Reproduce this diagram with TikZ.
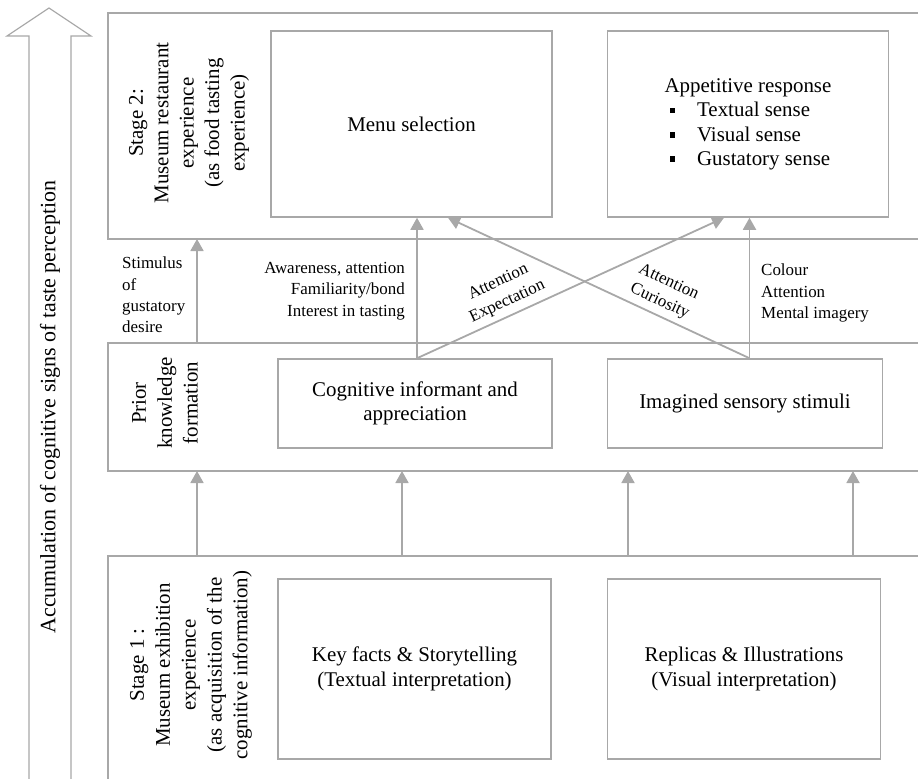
\documentclass[tikz,border=0pt]{standalone}
\usepackage{fontspec}
\setmainfont{Liberation Serif}
\usetikzlibrary{positioning, arrows.meta}
\definecolor{linegray}{RGB}{168,168,168}
\newcommand{\sqbul}{\hspace*{5bp}\raisebox{3.5bp}{\rule{5.5bp}{5.5bp}}\hspace{22bp}}

\begin{document}
\begin{tikzpicture}[x=1bp, y=-1bp, >={Triangle[length=12bp,width=13bp]},
    box/.style={draw=linegray, line width=1.5bp, inner sep=0pt, align=center,
      font=\fontsize{21}{24.5}\selectfont},
    stagelbl/.style={rotate=90, align=center, inner sep=0pt,
      font=\fontsize{21}{25.5}\selectfont},
    lbl/.style={inner sep=0pt, font=\fontsize{17}{21.5}\selectfont},
    arr/.style={->, draw=linegray, fill=linegray, line width=1.8bp}]
  \useasboundingbox (0,0) rectangle (918,779);

  % the rising arrow on the left
  \draw[linegray, line width=1.2bp] (29,779) -- (29,36) -- (7,36) -- (49,8)
    -- (91,36) -- (71,36) -- (71,779);
  \node[stagelbl, font=\fontsize{22}{26}\selectfont] (acc) at (50,407)
    {Accumulation of cognitive signs of taste perception};

  % the three bands
  \draw[linegray, line width=1.5bp] (918,13) -- (108,13) -- (108,239) -- (918,239);
  \draw[linegray, line width=1.5bp] (918,343) -- (108,343) -- (108,471) -- (918,471);
  \draw[linegray, line width=1.5bp] (918,556) -- (108,556) -- (108,779);
  \coordinate (s2) at (108,239);
  \coordinate (pt) at (108,343);
  \coordinate (pb) at (108,471);
  \coordinate (s1) at (108,556);

  \node[stagelbl] (stage2) at (189,123)
    {Stage 2:\\Museum restaurant\\experience\\(as food tasting\\experience)};
  \node[stagelbl, font=\fontsize{21}{26}\selectfont] (prior) at (165,403)
    {Prior\\knowledge\\formation};
  \node[stagelbl, font=\fontsize{21}{26}\selectfont] (stage1) at (191,665)
    {Stage 1 :\\Museum exhibition\\experience\\(as acquisition of the\\cognitive information)};

  % boxes
  \node[box, minimum width=281bp, minimum height=186bp] (M) at (411.5,124) {Menu selection};
  \node[box, minimum width=281bp, minimum height=186bp] (A) [right = 54bp of M]
    {\begin{tabular}{@{}l@{}}Appetitive response\\ \sqbul Textual sense\\ \sqbul Visual sense\\ \sqbul Gustatory sense\end{tabular}};
  \node[box, minimum width=274bp, minimum height=89bp] (C) at (415,403.5)
    {Cognitive informant and\\appreciation};
  \node[box, minimum width=275bp, minimum height=89bp] (I) [right = 54bp of C]
    {Imagined sensory stimuli};
  \node[box, minimum width=273bp, minimum height=180bp] (K) at (414.5,669)
    {Key facts \& Storytelling\\(Textual interpretation)};
  \node[box, minimum width=273bp, minimum height=180bp] (R) [right = 55bp of K]
    {Replicas \& Illustrations\\(Visual interpretation)};

  % from stage 1 up to prior knowledge
  \draw[arr] (s1 -| 197,0) -- (pb -| 197,0);
  \draw[arr] (s1 -| 402,0) -- (pb -| 402,0);
  \draw[arr] (s1 -| 628,0) -- (pb -| 628,0);
  \draw[arr] (s1 -| 853,0) -- (pb -| 853,0);

  % from prior knowledge up to stage 2
  \draw[arr] (pt -| 197,0) -- (s2 -| 197,0);
  \draw[arr] ([xshift=2bp]C.north) -- ([xshift=2bp]C.north |- M.south);
  \draw[arr] ([xshift=2bp]C.north) -- ([xshift=-24bp]A.south);
  \draw[arr] ([xshift=4.5bp]I.north) -- ([xshift=4.5bp]I.north |- A.south);
  \draw[arr] ([xshift=4.5bp]I.north) -- ([xshift=36.5bp]M.south);

  \node[lbl, align=left, anchor=west] (stim) at (122,295)
    {Stimulus\\of\\gustatory\\desire};
  \node[lbl, align=right, anchor=east] (aware) at (405,291)
    {Awareness, attention\\Familiarity/bond\\Interest in tasting};
  \node[lbl, align=left, anchor=west] (colour) at (761,293)
    {Colour\\Attention\\Mental imagery};
  \node[lbl, align=center, rotate=25] (expect) at (503,292) {Attention\\Expectation};
  \node[lbl, align=center, rotate=-25] (curio) at (664,292) {Attention\\Curiosity};
\end{tikzpicture}
\end{document}
